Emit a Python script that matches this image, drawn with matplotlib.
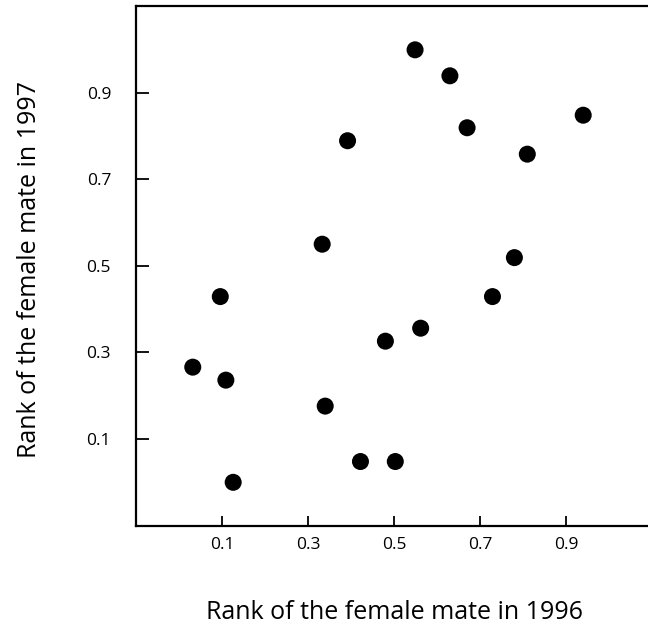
import matplotlib
matplotlib.use('Agg')
import matplotlib.pyplot as plt

# mate rank pairs, 1996 vs 1997
rank_1996 = [0.549, 0.630, 0.670, 0.940, 0.810, 0.392, 0.333, 0.780, 0.096,
             0.729, 0.480, 0.562, 0.032, 0.109, 0.340, 0.422, 0.503, 0.126]
rank_1997 = [0.999, 0.939, 0.819, 0.848, 0.758, 0.789, 0.550, 0.519, 0.429,
             0.429, 0.326, 0.356, 0.266, 0.236, 0.176, 0.048, 0.048, 0.000]
ticks = [0.1, 0.3, 0.5, 0.7, 0.9]

plt.rcParams['font.family'] = ['Open Sans', 'DejaVu Sans']

fig = plt.figure(figsize=(6.48, 6.28), dpi=100)
ax = fig.add_axes([136 / 648, 1 - 525.6 / 628, 516 / 648, 519.5 / 628])

ax.scatter(rank_1996, rank_1997, s=150, c='black', edgecolors='none', zorder=3)

ax.set_xlim(-0.1, 1.1)
ax.set_ylim(-0.1, 1.1)
ax.set_xticks(ticks)
ax.set_yticks(ticks)
ax.set_xticklabels([f'{t:.1f}' for t in ticks])
ax.set_yticklabels([f'{t:.1f}' for t in ticks])

for s in ax.spines.values():
    s.set_linewidth(1.6)
ax.tick_params(axis='x', direction='in', length=7, width=1.3, pad=8, labelsize=12.5)
ax.tick_params(axis='y', direction='in', length=9, width=1.3, pad=18, labelsize=12.5)

fig.text(394 / 648, 1 - 619 / 628, 'Rank of the female mate in 1996',
         ha='center', va='baseline', fontsize=18)
fig.text(36 / 648, 1 - 270 / 628, 'Rank of the female mate in 1997',
         ha='center', va='baseline', rotation=90, rotation_mode='anchor',
         fontsize=18)

fig.savefig('out.png', dpi=100)
